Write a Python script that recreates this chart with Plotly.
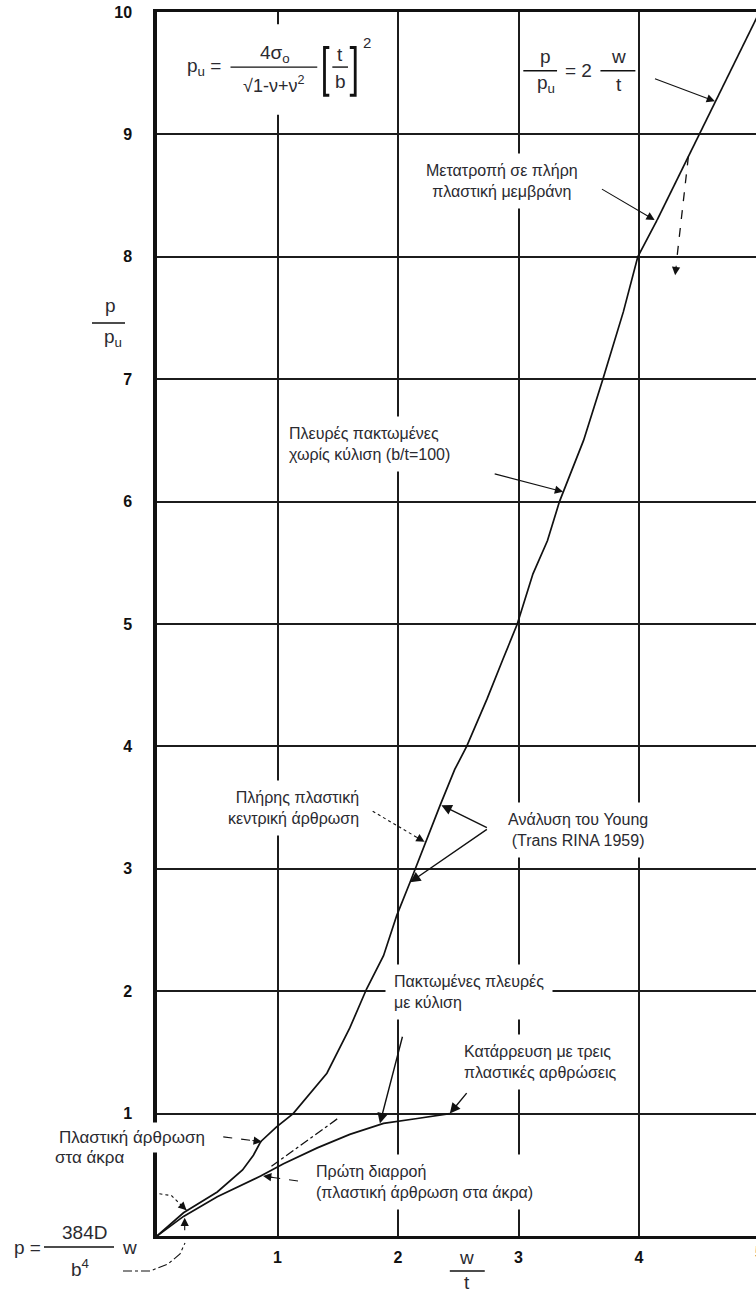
import math
import plotly.graph_objects as go

# ---- data: p/pu versus w/t -------------------------------------------------
# clamped edges, no in-plane sliding (b/t = 100)
main_wt = [0, 0.22, 0.50, 0.71, 0.80, 0.86, 0.99, 1.13, 1.41, 1.60, 1.74, 1.88,
           1.99, 2.10, 2.35, 2.47, 2.57, 2.74, 2.87, 2.99, 3.12, 3.24, 3.34,
           3.54, 3.70, 3.87, 3.99, 4.15]
main_p = [0, 0.19, 0.36, 0.54, 0.66, 0.77, 0.89, 1.00, 1.33, 1.70, 2.02, 2.29,
          2.62, 2.89, 3.52, 3.81, 4.00, 4.39, 4.71, 5.00, 5.41, 5.68, 6.00,
          6.50, 7.00, 7.55, 8.00, 8.30]

# full plastic membrane, p/pu = 2 w/t
membrane_wt = [4.15, 5.0]
membrane_p = [8.30, 10.0]

# clamped edges with sliding (three-hinge collapse)
slide_wt = [0, 0.22, 0.50, 0.86, 1.05, 1.33, 1.60, 1.88, 2.16, 2.43]
slide_p = [0, 0.16, 0.32, 0.49, 0.59, 0.72, 0.83, 0.92, 0.96, 1.00]

# small-deflection elastic extension (dash-dot)
elastic_wt = [0.95, 1.50]
elastic_p = [0.57, 0.96]

x_ticks = [1, 2, 3, 4]
y_ticks = [1, 2, 3, 4, 5, 6, 7, 8, 9, 10]

# ---- geometry ---------------------------------------------------------------
W, H = 756, 1290
ML, MR, MT, MB = 157, 0, 12, 54
X_MAX = 4.971
Y_MAX = 10.0
PW, PH = W - ML - MR, H - MT - MB
SX, SY = PW / X_MAX, PH / Y_MAX

FONT = "Liberation Sans, Arial, sans-serif"
INK = "#111111"
TXT = "#2a2a30"
LBL = 16      # curve label size
EQ = 19       # equation size

fig = go.Figure()

line_style = dict(color=INK, width=1.7)
fig.add_trace(go.Scatter(x=main_wt, y=main_p, mode="lines", line=line_style,
                         hoverinfo="skip"))
fig.add_trace(go.Scatter(x=membrane_wt, y=membrane_p, mode="lines", line=line_style,
                         hoverinfo="skip"))
fig.add_trace(go.Scatter(x=slide_wt, y=slide_p, mode="lines", line=line_style,
                         hoverinfo="skip"))
fig.add_trace(go.Scatter(x=elastic_wt, y=elastic_p, mode="lines",
                         line=dict(color=INK, width=1.3, dash="dashdot"),
                         hoverinfo="skip"))

shapes = []
annots = []


def paper(x, y):
    return x / X_MAX, y / Y_MAX


def fx(px):
    return (px - ML) / PW


def fy(py):
    return (H - MB - py) / PH


def text(x, y, s, size=LBL, xanchor="left", bg=True, xref="x", yref="y", pad=8):
    a = dict(x=x, y=y, text=s, showarrow=False, xanchor=xanchor, yanchor="middle",
             align=xanchor if xanchor != "center" else "center",
             font=dict(family=FONT, size=size, color=TXT), xref=xref, yref=yref)
    if bg:
        a.update(bgcolor="white", borderpad=pad)
    annots.append(a)


def arrow(tail, tip, width=1.1):
    annots.append(dict(x=tip[0], y=tip[1], ax=tail[0], ay=tail[1], xref="x", yref="y",
                       axref="x", ayref="y", text="", showarrow=True, arrowhead=2,
                       arrowsize=1.5, arrowwidth=width, arrowcolor=INK))


def head(tail, tip, length=11):
    dx = (tail[0] - tip[0]) * SX
    dy = -(tail[1] - tip[1]) * SY
    n = math.hypot(dx, dy)
    annots.append(dict(x=tip[0], y=tip[1], ax=dx / n * length, ay=dy / n * length,
                       xref="x", yref="y", text="", showarrow=True, arrowhead=2,
                       arrowsize=1.5, arrowwidth=1.1, arrowcolor=INK))


def dashed_leader(pts, dash="dash", width=1.1):
    path = "M " + " L ".join(f"{x},{y}" for x, y in pts)
    shapes.append(dict(type="path", path=path, xref="x", yref="y",
                       line=dict(color=INK, width=width, dash=dash), layer="above"))
    head(pts[-2], pts[-1])


def bar(x0, x1, y, xref="x", yref="y", width=1.4):
    shapes.append(dict(type="line", x0=x0, x1=x1, y0=y, y1=y, xref=xref, yref=yref,
                       line=dict(color=INK, width=width), layer="above"))


# ---- formula for pu (top left) ---------------------------------------------
shapes.append(dict(type="rect", x0=0.15, x1=1.90, y0=9.16, y1=9.90, xref="x", yref="y",
                   fillcolor="white", line=dict(width=0), layer="above"))
text(0.545, 9.55, "p<sub>u</sub> =", size=EQ, xanchor="right", bg=False)
bar(0.61, 1.33, 9.55)
text(0.98, 9.66, "4σ<sub>o</sub>", size=EQ, xanchor="center", bg=False)
text(0.97, 9.41, "√1-ν+ν<sup>2</sup>", size=EQ - 1, xanchor="center", bg=False)
shapes.append(dict(type="path", path="M 1.43,9.71 L 1.39,9.71 L 1.39,9.32 L 1.43,9.32",
                   xref="x", yref="y", line=dict(color=INK, width=2.8), layer="above"))
shapes.append(dict(type="path", path="M 1.60,9.71 L 1.645,9.71 L 1.645,9.32 L 1.60,9.32",
                   xref="x", yref="y", line=dict(color=INK, width=2.8), layer="above"))
bar(1.455, 1.585, 9.55)
text(1.52, 9.655, "t", size=EQ, xanchor="center", bg=False)
text(1.52, 9.43, "b", size=EQ, xanchor="center", bg=False)
text(1.74, 9.75, "2", size=15, xanchor="center", bg=False)

# ---- membrane formula (top right) ------------------------------------------
text(3.22, 9.64, "p", size=EQ, xanchor="center", bg=False)
bar(3.04, 3.32, 9.52)
text(3.23, 9.41, "p<sub>u</sub>", size=EQ, xanchor="center", bg=False)
text(3.495, 9.52, "= 2", size=EQ, xanchor="center", bg=False)
bar(3.68, 3.97, 9.52)
text(3.83, 9.64, "w", size=EQ, xanchor="center", bg=False)
text(3.83, 9.41, "t", size=EQ, xanchor="center", bg=False)
arrow((4.12, 9.46), (4.63, 9.27))

# ---- curve labels ----------------------------------------------------------
text(2.86, 8.62, "Μετατροπή σε πλήρη<br>πλαστική μεμβράνη", xanchor="center")
arrow((3.68, 8.56), (4.13, 8.30))
shapes.append(dict(type="line", x0=4.41, y0=8.82, x1=4.31, y1=7.95, xref="x", yref="y",
                   line=dict(color=INK, width=1.3, dash="dash"), layer="above"))
head((4.41, 8.82), (4.30, 7.85))

text(1.02, 6.47, "Πλευρές πακτωμένες<br>χωρίς κύλιση (b/t=100)", xanchor="left")
arrow((2.79, 6.23), (3.37, 6.08))

text(1.75, 3.50, "Πλήρης πλαστική<br>κεντρική άρθρωση", xanchor="right")
dashed_leader([(1.79, 3.47), (2.22, 3.22)], dash="dot")

text(3.49, 3.32, "Ανάλυση του Young<br>(Trans RINA 1959)", xanchor="center")
arrow((2.75, 3.33), (2.36, 3.52), width=1.4)
arrow((2.75, 3.33), (2.10, 2.89), width=1.4)

text(1.89, 1.99, "Πακτωμένες πλευρές<br>με κύλιση", xanchor="left")
arrow((2.04, 1.64), (1.85, 0.92), width=1.4)

text(2.47, 1.42, "Κατάρρευση με τρεις<br>πλαστικές αρθρώσεις", xanchor="left")
arrow((2.58, 1.18), (2.43, 1.00), width=1.4)

text(1.245, 0.44, "Πρώτη διαρροή<br>(πλαστική άρθρωση στα άκρα)", xanchor="left")
dashed_leader([(1.17, 0.45), (0.88, 0.49)])

px_, py_ = paper(-0.863, 0.806)
text(px_, py_, "Πλαστική άρθρωση", size=17, xanchor="left", xref="paper", yref="paper", pad=5)
px_, py_ = paper(-0.863, 0.64)
text(px_, py_, "στα άκρα", size=17, xanchor="left", xref="paper", yref="paper", bg=False)
dashed_leader([(0.55, 0.81), (0.87, 0.77)])

# dotted leader near the origin
dashed_leader([(0.02, 0.345), (0.12, 0.33), (0.245, 0.21)], dash="dot")

# ---- elastic formula (bottom left) -----------------------------------------
text(fx(27), fy(1247), "p =", size=EQ, xanchor="center", xref="paper", yref="paper", bg=False)
bar(fx(44), fx(114), fy(1247), xref="paper", yref="paper")
text(fx(84), fy(1232), "384D", size=EQ, xanchor="center", xref="paper", yref="paper", bg=False)
text(fx(80), fy(1268), "b<sup>4</sup>", size=EQ, xanchor="center", xref="paper", yref="paper", bg=False)
text(fx(129), fy(1247), "w", size=EQ, xanchor="center", xref="paper", yref="paper", bg=False)
leader = [(123, 1271), (150, 1271), (168, 1264), (180, 1254), (185, 1243)]
shapes.append(dict(type="path",
                   path="M " + " L ".join(f"{fx(a)},{fy(b)}" for a, b in leader),
                   xref="paper", yref="paper",
                   line=dict(color=INK, width=1.1, dash="dashdot")))
annots.append(dict(x=0.23, y=0.15, ax=0, ay=14, xref="x", yref="y", text="",
                   showarrow=True, arrowhead=2, arrowsize=1.5, arrowwidth=1.1,
                   arrowcolor=INK))

# ---- axis titles -----------------------------------------------------------
text(fx(110), fy(305), "p", size=EQ, xanchor="center", xref="paper", yref="paper", bg=False)
bar(fx(92), fx(125), fy(323), xref="paper", yref="paper")
text(fx(113), fy(338), "p<sub>u</sub>", size=EQ, xanchor="center", xref="paper", yref="paper", bg=False)

text(2.57, fy(1257), "w", size=EQ, xanchor="center", yref="paper", bg=False)
bar(2.43, 2.72, fy(1271), yref="paper")
text(2.57, fy(1282), "t", size=EQ, xanchor="center", yref="paper", bg=False)

tickfont = dict(family=FONT, size=16, color=INK, weight="bold")

# tick label for w/t = 5, just past the right edge
annots.append(dict(x=5 / X_MAX, y=fy(1252), xref="paper", yref="paper", text="5",
                   showarrow=False, xanchor="center", yanchor="middle",
                   font=tickfont))

fig.update_layout(
    width=W, height=H, autosize=False,
    margin=dict(l=ML, r=MR, t=MT, b=MB, pad=0),
    paper_bgcolor="white", plot_bgcolor="white",
    showlegend=False,
    xaxis=dict(range=[0, X_MAX], tickvals=x_ticks, ticktext=[str(v) for v in x_ticks],
               showgrid=True, gridcolor="#1c1c1c", gridwidth=2, zeroline=False,
               showline=True, linecolor=INK, linewidth=3, mirror=True,
               ticks="outside", ticklen=5, tickcolor="rgba(0,0,0,0)",
               tickfont=tickfont, fixedrange=True),
    yaxis=dict(range=[0, Y_MAX], tickvals=y_ticks, ticktext=[str(v) for v in y_ticks],
               showgrid=True, gridcolor="#1c1c1c", gridwidth=2, zeroline=False,
               showline=True, linecolor=INK, linewidth=3.5, mirror=False,
               ticks="outside", ticklen=18, tickcolor="rgba(0,0,0,0)",
               tickfont=tickfont, fixedrange=True),
    shapes=shapes,
    annotations=annots,
)

fig.write_html("out.html")
